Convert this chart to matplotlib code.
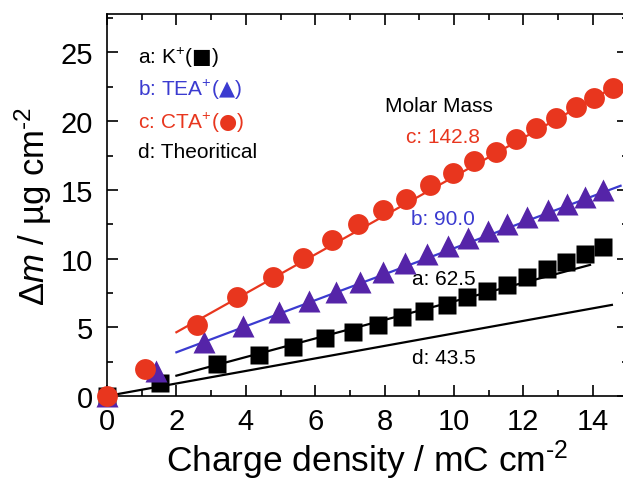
import matplotlib
matplotlib.use("Agg")
import matplotlib.pyplot as plt
from matplotlib.ticker import MultipleLocator

plt.rcParams['font.family'] = ['Liberation Sans', 'DejaVu Sans']
plt.rcParams['mathtext.fontset'] = 'custom'
plt.rcParams['mathtext.rm'] = 'Liberation Sans'
plt.rcParams['mathtext.it'] = 'Liberation Sans:italic'
plt.rcParams['mathtext.bf'] = 'Liberation Sans:bold'
plt.rcParams['mathtext.sf'] = 'DejaVu Sans'

# ---- data ----
k_x = [0, 1.53, 3.18, 4.39, 5.37, 6.29, 7.08, 7.80, 8.49, 9.14, 9.79, 10.37,
       10.94, 11.52, 12.10, 12.67, 13.23, 13.78, 14.30]
k_y = [0, 0.95, 2.33, 2.99, 3.59, 4.20, 4.68, 5.17, 5.73, 6.21, 6.63, 7.19,
       7.67, 8.08, 8.64, 9.25, 9.78, 10.34, 10.83]

tea_x = [0, 1.40, 2.80, 3.93, 4.97, 5.83, 6.60, 7.29, 7.96, 8.59, 9.21, 9.84,
         10.41, 10.99, 11.52, 12.10, 12.72, 13.25, 13.78, 14.30]
tea_y = [0, 1.80, 3.90, 5.10, 6.10, 6.90, 7.60, 8.30, 9.00, 9.70, 10.30, 10.90,
         11.50, 12.00, 12.50, 13.00, 13.50, 14.00, 14.50, 15.00]

cta_x = [0, 1.10, 2.58, 3.76, 4.78, 5.64, 6.47, 7.24, 7.96, 8.63, 9.31, 9.96,
         10.58, 11.21, 11.79, 12.36, 12.94, 13.52, 14.04, 14.57]
cta_y = [0, 2.00, 5.19, 7.19, 8.69, 10.03, 11.35, 12.53, 13.50, 14.35, 15.37,
         16.22, 17.07, 17.79, 18.72, 19.50, 20.23, 21.03, 21.68, 22.41]

fit_a_x = [2.0, 13.92]
fit_a_y = [1.48, 9.54]
fit_b_x = [2.0, 14.8]
fit_b_y = [3.18, 15.3]
fit_c_x = [2.0, 14.8]
fit_c_y = [4.64, 22.75]
theo_x = [0.0, 14.55]
theo_y = [0.0, 6.63]

legend_labels = ["a: K$^{+}$($\\mathsf{■}$)", "b: TEA$^{+}$($\\mathsf{▲}$)",
                 "c: CTA$^{+}$($\\mathsf{●}$)", "d: Theoritical"]
mass_labels = ["c: 142.8", "b: 90.0", "a: 62.5", "d: 43.5"]

RED = '#e8361e'
PURPLE = '#5524a8'
BLUE = '#3b3bd0'
BLACK = '#000000'

fig = plt.figure(figsize=(6.23, 4.81), dpi=100)
ax = fig.add_axes([107/623, 84/481, (627.5-107)/623, (397-15)/481])

# fit lines
ax.plot(theo_x, theo_y, color=BLACK, lw=1.6, zorder=2)
ax.plot(fit_a_x, fit_a_y, color=BLACK, lw=1.6, zorder=2)
ax.plot(fit_b_x, fit_b_y, color=BLUE, lw=1.6, zorder=2)
ax.plot(fit_c_x, fit_c_y, color=RED, lw=1.6, zorder=2)

# markers
ax.plot(k_x, k_y, 's', color=BLACK, ms=13, mec='none', clip_on=False, zorder=3)
ax.plot(tea_x, tea_y, '^', color=PURPLE, ms=16.5, mec='none', clip_on=False, zorder=4)
ax.plot(cta_x, cta_y, 'o', color=RED, ms=15, mec='none', clip_on=False, zorder=5)

ax.set_xlim(0, 15)
ax.set_ylim(0, 27.8)
ax.xaxis.set_major_locator(MultipleLocator(2))
ax.xaxis.set_minor_locator(MultipleLocator(1))
ax.yaxis.set_major_locator(MultipleLocator(5))
ax.yaxis.set_minor_locator(MultipleLocator(2.5))
ax.tick_params(which='both', direction='in', top=True, right=True, width=1.2)
ax.tick_params(which='major', length=8, labelsize=21)
ax.tick_params(axis='x', which='major', pad=8)
ax.tick_params(axis='y', which='major', pad=10)
ax.tick_params(which='minor', length=4.5)
for s in ax.spines.values():
    s.set_linewidth(1.2)

ax.set_xlabel("Charge density / mC cm$^{\\text{-2}}$", fontsize=25.5, labelpad=2)
ax.set_ylabel("Δ$\\it{m}$ / µg cm$^{\\text{-2}}$", fontsize=25, labelpad=5)

fs = 15
leg_colors = [BLACK, BLUE, RED, BLACK]
leg_y = [24.7, 22.36, 19.96, 17.77]
for lab, col, yy in zip(legend_labels, leg_colors, leg_y):
    ax.text(0.89, yy, lab, color=col, fontsize=fs, va='center', ha='left')

ax.text(8.01, 21.12, "Molar Mass", color=BLACK, fontsize=fs, va='center', ha='left')
mass_colors = [RED, BLUE, BLACK, BLACK]
mass_pos = [(8.62, 18.86), (8.76, 12.89), (8.79, 8.52), (8.79, 2.77)]
for lab, col, (xx, yy) in zip(mass_labels, mass_colors, mass_pos):
    ax.text(xx, yy, lab, color=col, fontsize=fs, va='center', ha='left')

fig.savefig("out.png", dpi=100)
